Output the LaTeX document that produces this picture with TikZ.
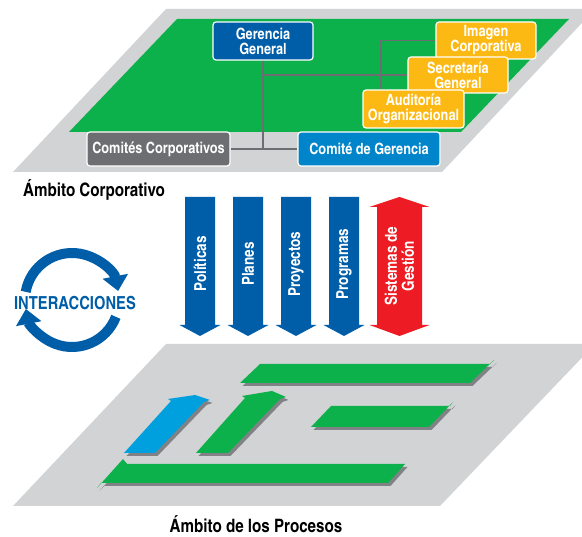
\documentclass[tikz,border=0pt]{standalone}
\usepackage{fontspec}
\setmainfont{texgyreheroscn}[Extension=.otf, UprightFont=*-regular, BoldFont=*-bold, ItalicFont=*-italic, BoldItalicFont=*-bolditalic]
\usepackage{tikz}
\usetikzlibrary{arrows.meta, calc, positioning}
\definecolor{planegray}{RGB}{209, 211, 212}
\definecolor{corpgreen}{RGB}{13, 177, 75}
\definecolor{dkblue}{RGB}{0, 94, 168}
\definecolor{midblue}{RGB}{0, 133, 202}
\definecolor{ambar}{RGB}{253, 185, 19}
\definecolor{boxgray}{RGB}{109, 110, 113}
\definecolor{linegray}{RGB}{109, 110, 113}
\definecolor{redarrow}{RGB}{237, 28, 36}
\definecolor{skyblue}{RGB}{0, 160, 223}
\definecolor{shadowgray}{RGB}{128, 130, 133}
\tikzset{
    boxnode/.style = {draw=white, line width=1.2pt, rectangle, rounded corners=3pt, text=white, inner sep=0pt, 
      font=\fontsize{15.5}{15}\selectfont\bfseries},
    textnode/.style = {draw=none, fill=none, rectangle, inner sep=0pt, font=\fontsize{18.5}{19}\selectfont\bfseries},
    arrowtext/.style = {text=white, rotate=90, inner sep=0pt, font=\fontsize{16.5}{17}\selectfont\bfseries},
    linkline/.style = {draw=linegray, line width=1.2pt},
    cycleline/.style = {draw=dkblue, line width=10pt, -{Triangle[width=25pt, length=15pt]}},
    flatbar/.style = {fill=#1, preaction={fill=shadowgray, transform canvas={shift={(2.5,3)}}}},
    every text node part/.style={align=center}
}

\begin{document}
\begin{tikzpicture}[x=1pt, y=-1pt]
\clip (0,0) rectangle (582,537);

% ambito corporativo
\fill[planegray] (166,9) -- (595,9) -- (442,172) -- (13,172) -- cycle;
\fill[corpgreen] (177,19) -- (569,19) -- (461,132) -- (69,132) -- cycle;

\node[boxnode, name=gerencia, fill=dkblue, minimum width=100pt, minimum height=38pt] at (263,41) {Gerencia\\General};
\node[boxnode, name=imagen, fill=ambar, minimum width=100pt, minimum height=37pt] at (486,40.5) {Imagen\\Corporativa};
\node[boxnode, name=secretaria, fill=ambar, minimum width=100pt, minimum height=36pt] at (458,75) {Secretaría\\General};
\node[boxnode, name=auditoria, fill=ambar, minimum width=101pt, minimum height=38pt] at (413.5,109) {Auditoría\\Organizacional};
\node[boxnode, name=comites, fill=boxgray, minimum width=143pt, minimum height=34pt] at (158.5,149) {Comités Corporativos};
\node[boxnode, name=comiteger, fill=midblue, minimum width=142pt, minimum height=34pt] at (369,149) {Comité de Gerencia};

\coordinate (branch) at (381,40.5);
\draw[linkline] (gerencia.south) -- (gerencia.south |- comites.east);
\draw[linkline] (comites.east) -- (comiteger.west);
\draw[linkline] (gerencia.south |- secretaria.west) -- (secretaria.west);
\draw[linkline] (imagen.west) -- (branch) -- (branch |- auditoria.north);

\node[textnode, name=corplabel, anchor=base west] at (23,197) {Ámbito Corporativo};

% flechas
\foreach \cx/\lbl/\nm in {200/Políticas/politicas, 248/Planes/planes, 296/Proyectos/proyectos, 344/Programas/programas} {
  \fill[dkblue] (\cx-15,197) -- (\cx+15,197) -- (\cx+15,325) -- (\cx+20.5,325) -- (\cx,336) 
    -- (\cx-20.5,325) -- (\cx-15,325) -- cycle;
  \node[arrowtext, name=\nm] at (\cx,264) {\lbl};
}
\fill[redarrow] (399.5,197) -- (429.5,207) -- (422,207) -- (422,325) -- (429.5,325) -- (399.5,336) 
  -- (369.5,325) -- (377,325) -- (377,207) -- (369.5,207) -- cycle;
\node[arrowtext, name=sistemas] at (399.5,266) {Sistemas de\\Gestión};

% interacciones
\coordinate (ring) at (72,300);
\draw[cycleline] (ring) ++(-170:47) arc[start angle=-170, end angle=-11, radius=47];
\draw[cycleline] (ring) ++(21:47) arc[start angle=21, end angle=169, radius=47];
\node[textnode, name=interacciones, text=dkblue, font=\fontsize{18}{18}\selectfont\bfseries] at (75,303) {INTERACCIONES};

% ambito de los procesos
\fill[planegray] (166,344) -- (595,344) -- (440,506) -- (13,506) -- cycle;
\fill[flatbar=corpgreen] (260,364) -- (490,364) -- (494,360) -- (470,383) -- (240,383) -- cycle;
\fill[flatbar=corpgreen] (331,406) -- (450,406) -- (453,402) -- (429,427) -- (311,427) -- cycle;
\fill[flatbar=corpgreen] (123,459) -- (127,464) -- (405,464) -- (388,483) -- (101,483) -- (97,488) -- cycle;
\fill[flatbar=skyblue] (124,453) -- (171,401) -- (168,399) -- (195,395) -- (210,400) -- (204,402) -- (155,453) -- cycle;
\fill[flatbar=corpgreen] (196,453) -- (245,398) -- (242,396) -- (272,391) -- (286,397) -- (280,399) -- (228,453) -- cycle;

\node[textnode, name=proclabel, anchor=base] at (256,533) {Ámbito de los Procesos};
\end{tikzpicture}
\end{document}
